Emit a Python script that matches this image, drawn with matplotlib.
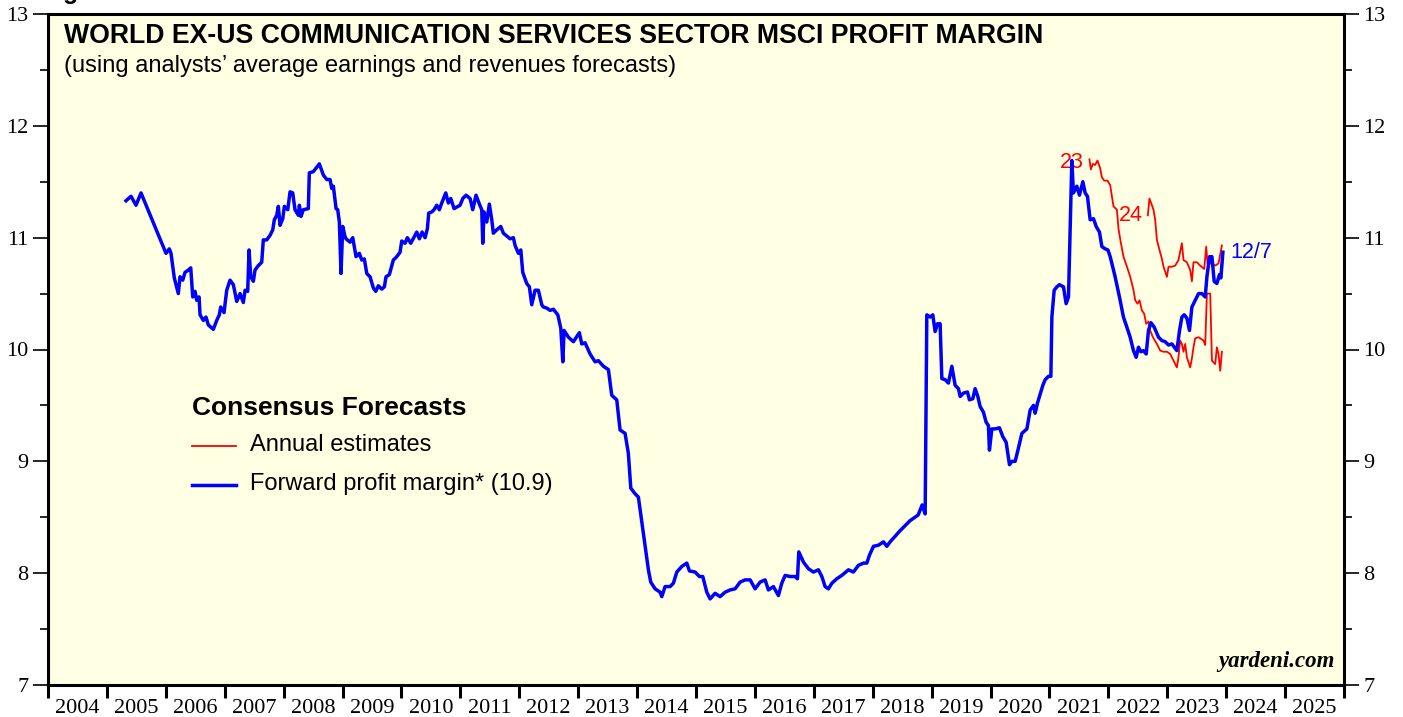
import matplotlib
matplotlib.use("Agg")
import matplotlib.pyplot as plt
from matplotlib.ticker import FixedLocator, NullFormatter, FixedFormatter

# Forward profit margin (decimal year, %)
fwd_year = [2005.324, 2005.409, 2005.494, 2005.579, 2006.003, 2006.059, 2006.088, 2006.144, 2006.212, 2006.241,
            2006.287, 2006.326, 2006.382, 2006.423, 2006.457, 2006.496, 2006.525, 2006.564, 2006.581, 2006.637,
            2006.682, 2006.721, 2006.806, 2006.864, 2006.908, 2006.932, 2006.988, 2007.034, 2007.090, 2007.146,
            2007.204, 2007.260, 2007.316, 2007.345, 2007.390, 2007.413, 2007.441, 2007.486, 2007.514, 2007.570,
            2007.628, 2007.655, 2007.713, 2007.769, 2007.815, 2007.842, 2007.883, 2007.910, 2007.939, 2007.985,
            2008.012, 2008.070, 2008.109, 2008.154, 2008.193, 2008.250, 2008.267, 2008.295, 2008.334, 2008.419,
            2008.436, 2008.504, 2008.606, 2008.674, 2008.732, 2008.788, 2008.817, 2008.844, 2008.890, 2008.918,
            2008.946, 2008.974, 2009.003, 2009.042, 2009.059, 2009.127, 2009.173, 2009.229, 2009.285, 2009.326,
            2009.370, 2009.411, 2009.467, 2009.523, 2009.564, 2009.608, 2009.666, 2009.710, 2009.738, 2009.795,
            2009.862, 2009.920, 2009.976, 2010.005, 2010.061, 2010.100, 2010.158, 2010.260, 2010.304, 2010.350,
            2010.401, 2010.440, 2010.463, 2010.514, 2010.553, 2010.599, 2010.643, 2010.684, 2010.752, 2010.796,
            2010.837, 2010.893, 2010.995, 2011.041, 2011.097, 2011.165, 2011.210, 2011.266, 2011.323, 2011.363,
            2011.380, 2011.402, 2011.448, 2011.492, 2011.533, 2011.560, 2011.618, 2011.686, 2011.730, 2011.844,
            2011.900, 2011.929, 2011.985, 2012.026, 2012.059, 2012.127, 2012.172, 2012.212, 2012.268, 2012.324,
            2012.382, 2012.409, 2012.467, 2012.523, 2012.579, 2012.654, 2012.705, 2012.739, 2012.761, 2012.834,
            2012.919, 2013.020, 2013.061, 2013.117, 2013.202, 2013.287, 2013.343, 2013.428, 2013.513, 2013.570,
            2013.655, 2013.711, 2013.796, 2013.852, 2013.893, 2013.966, 2014.022, 2014.136, 2014.192, 2014.232,
            2014.306, 2014.390, 2014.419, 2014.475, 2014.560, 2014.616, 2014.674, 2014.759, 2014.844, 2014.888,
            2014.985, 2015.058, 2015.115, 2015.183, 2015.239, 2015.324, 2015.409, 2015.494, 2015.579, 2015.664,
            2015.749, 2015.834, 2015.919, 2016.003, 2016.088, 2016.173, 2016.229, 2016.314, 2016.399, 2016.456,
            2016.513, 2016.598, 2016.682, 2016.722, 2016.745, 2016.823, 2016.908, 2016.993, 2017.078, 2017.136,
            2017.192, 2017.248, 2017.306, 2017.390, 2017.475, 2017.588, 2017.673, 2017.757, 2017.842, 2017.900,
            2017.944, 2018.012, 2018.097, 2018.182, 2018.239, 2018.295, 2018.465, 2018.635, 2018.771, 2018.839,
            2018.890, 2018.918, 2018.975, 2019.020, 2019.059, 2019.099, 2019.144, 2019.173, 2019.229, 2019.285,
            2019.343, 2019.399, 2019.455, 2019.484, 2019.540, 2019.608, 2019.642, 2019.699, 2019.738, 2019.784,
            2019.823, 2019.879, 2019.925, 2019.964, 2019.981, 2020.022, 2020.078, 2020.151, 2020.209, 2020.265,
            2020.321, 2020.362, 2020.418, 2020.474, 2020.532, 2020.617, 2020.673, 2020.729, 2020.757, 2020.796,
            2020.830, 2020.888, 2020.927, 2020.983, 2021.024, 2021.041, 2021.080, 2021.126, 2021.170, 2021.238,
            2021.283, 2021.323, 2021.380, 2021.407, 2021.465, 2021.509, 2021.567, 2021.606, 2021.645, 2021.691,
            2021.747, 2021.793, 2021.849, 2021.890, 2021.946, 2021.992, 2022.031, 2022.115, 2022.200, 2022.256,
            2022.314, 2022.370, 2022.426, 2022.472, 2022.511, 2022.552, 2022.596, 2022.642, 2022.681, 2022.722,
            2022.778, 2022.851, 2022.908, 2022.964, 2023.021, 2023.078, 2023.163, 2023.208, 2023.248, 2023.287,
            2023.333, 2023.377, 2023.418, 2023.474, 2023.531, 2023.588, 2023.644, 2023.673, 2023.717, 2023.758,
            2023.796, 2023.842, 2023.886, 2023.910, 2023.944]
fwd_margin = [11.33, 11.37, 11.29, 11.40, 10.86, 10.90, 10.86, 10.64, 10.50, 10.65,
              10.62, 10.69, 10.71, 10.73, 10.47, 10.52, 10.44, 10.47, 10.31, 10.26,
              10.29, 10.22, 10.18, 10.26, 10.31, 10.38, 10.33, 10.53, 10.62, 10.58,
              10.43, 10.50, 10.42, 10.53, 10.52, 10.89, 10.65, 10.61, 10.71, 10.75,
              10.78, 10.98, 10.98, 11.02, 11.07, 11.16, 11.20, 11.28, 11.11, 11.17,
              11.28, 11.25, 11.41, 11.40, 11.25, 11.20, 11.29, 11.19, 11.25, 11.26,
              11.58, 11.59, 11.66, 11.56, 11.52, 11.52, 11.44, 11.46, 11.26, 11.25,
              11.14, 10.68, 11.10, 11.01, 10.99, 10.96, 11.00, 10.83, 10.86, 10.80,
              10.81, 10.68, 10.65, 10.55, 10.52, 10.57, 10.54, 10.56, 10.65, 10.67,
              10.80, 10.83, 10.87, 10.97, 10.95, 11.00, 10.95, 11.05, 10.99, 11.05,
              11.00, 11.08, 11.22, 11.23, 11.25, 11.29, 11.25, 11.31, 11.40, 11.31,
              11.35, 11.26, 11.29, 11.35, 11.38, 11.35, 11.25, 11.38, 11.30, 11.25,
              10.95, 11.23, 11.14, 11.30, 11.16, 11.04, 11.07, 11.10, 11.04, 10.99,
              11.00, 10.93, 10.86, 10.89, 10.69, 10.59, 10.56, 10.40, 10.53, 10.53,
              10.40, 10.38, 10.37, 10.35, 10.36, 10.31, 10.19, 9.89, 10.17, 10.11,
              10.07, 10.15, 10.05, 10.06, 9.96, 9.89, 9.90, 9.85, 9.82, 9.59,
              9.55, 9.28, 9.25, 9.07, 8.76, 8.71, 8.68, 8.24, 8.03, 7.92,
              7.86, 7.83, 7.79, 7.88, 7.88, 7.91, 8.01, 8.06, 8.09, 8.02,
              8.01, 7.97, 7.97, 7.83, 7.77, 7.82, 7.79, 7.83, 7.85, 7.86,
              7.92, 7.94, 7.94, 7.86, 7.92, 7.94, 7.85, 7.88, 7.80, 7.91,
              7.98, 7.97, 7.97, 7.95, 8.19, 8.10, 8.04, 8.01, 8.03, 7.97,
              7.88, 7.86, 7.91, 7.95, 7.98, 8.03, 8.01, 8.07, 8.09, 8.09,
              8.16, 8.24, 8.25, 8.28, 8.24, 8.28, 8.38, 8.47, 8.52, 8.61,
              8.53, 10.31, 10.29, 10.31, 10.16, 10.23, 10.23, 9.74, 9.73, 9.70,
              9.85, 9.68, 9.65, 9.58, 9.61, 9.62, 9.55, 9.56, 9.65, 9.58,
              9.49, 9.44, 9.35, 9.32, 9.10, 9.29, 9.29, 9.30, 9.22, 9.17,
              8.97, 9.00, 9.00, 9.12, 9.25, 9.29, 9.46, 9.50, 9.43, 9.52,
              9.58, 9.68, 9.73, 9.76, 9.76, 10.29, 10.53, 10.56, 10.58, 10.56,
              10.41, 10.47, 11.69, 11.40, 11.46, 11.38, 11.50, 11.40, 11.37, 11.16,
              11.17, 11.10, 11.05, 10.92, 10.90, 10.89, 10.83, 10.65, 10.44, 10.29,
              10.20, 10.11, 9.99, 9.93, 10.02, 9.98, 9.99, 9.96, 10.17, 10.24,
              10.20, 10.11, 10.08, 10.07, 10.04, 10.05, 9.99, 10.17, 10.29, 10.31,
              10.28, 10.17, 10.38, 10.44, 10.50, 10.50, 10.47, 10.65, 10.83, 10.83,
              10.61, 10.59, 10.67, 10.64, 10.87]

# Annual estimates for 2023
est23_year = [2021.679, 2021.703, 2021.737, 2021.776, 2021.815, 2021.861, 2021.890, 2021.929, 2021.985, 2022.031,
              2022.060, 2022.087, 2022.145, 2022.172, 2022.213, 2022.257, 2022.315, 2022.371, 2022.427, 2022.456,
              2022.495, 2022.529, 2022.569, 2022.608, 2022.642, 2022.681, 2022.710, 2022.756, 2022.824, 2022.880,
              2022.936, 2022.994, 2023.050, 2023.106, 2023.163, 2023.190, 2023.219, 2023.248, 2023.275, 2023.304,
              2023.333, 2023.389, 2023.418, 2023.445, 2023.474, 2023.531, 2023.615, 2023.644, 2023.673, 2023.700,
              2023.729, 2023.758, 2023.814, 2023.842, 2023.870, 2023.899, 2023.927]
est23_margin = [11.70, 11.61, 11.66, 11.65, 11.69, 11.62, 11.54, 11.51, 11.51, 11.47,
                11.37, 11.28, 11.25, 11.08, 10.95, 10.83, 10.74, 10.65, 10.53, 10.44,
                10.41, 10.44, 10.35, 10.32, 10.23, 10.25, 10.17, 10.11, 10.05, 9.99,
                9.98, 9.98, 9.96, 9.90, 9.84, 9.93, 10.08, 10.05, 9.98, 10.05,
                9.93, 9.84, 9.92, 10.02, 10.10, 10.11, 10.08, 10.04, 10.50, 10.50,
                10.50, 9.90, 9.87, 10.02, 9.96, 9.81, 9.98]

# Annual estimates for 2024
est24_year = [2022.670, 2022.698, 2022.739, 2022.766, 2022.795, 2022.824, 2022.868, 2022.909, 2022.936, 2022.994,
              2023.021, 2023.078, 2023.134, 2023.190, 2023.248, 2023.275, 2023.333, 2023.389, 2023.418, 2023.445,
              2023.502, 2023.559, 2023.627, 2023.661, 2023.683, 2023.758, 2023.814, 2023.870, 2023.927]
est24_margin = [11.20, 11.35, 11.29, 11.25, 11.16, 10.98, 10.89, 10.81, 10.74, 10.65,
                10.74, 10.74, 10.75, 10.80, 10.95, 10.80, 10.78, 10.71, 10.61, 10.78,
                10.78, 10.75, 10.72, 10.92, 10.77, 10.77, 10.75, 10.77, 10.93]

years = list(range(2004, 2027))
year_labels = [str(y) for y in range(2004, 2026)]
y_ticks = [7, 8, 9, 10, 11, 12, 13]

BG = "#FFFFE3"
fig = plt.figure(figsize=(14.03, 7.17), dpi=100)
ax = fig.add_axes([48/1403, 32/717, (1344-48)/1403, (685-14)/717])
ax.set_facecolor(BG)

ax.plot(est23_year, est23_margin, color="#FF0000", lw=1.3, zorder=3)
ax.plot(est24_year, est24_margin, color="#FF0000", lw=1.3, zorder=3)
ax.plot(fwd_year, fwd_margin, color="#0000FF", lw=2.5, zorder=4)

ax.set_xlim(2004, 2026)
ax.set_ylim(7, 13)

for s in ax.spines.values():
    s.set_linewidth(2.2)
    s.set_color("black")

# y axis
ax.yaxis.set_major_locator(FixedLocator(y_ticks))
ax.yaxis.set_minor_locator(FixedLocator([v + 0.5 for v in y_ticks[:-1]]))
ax.tick_params(axis="y", which="major", left=True, right=True, labelleft=True, labelright=True,
               direction="out", length=11, width=1.2, labelsize=16, pad=3)
ax.tick_params(axis="y", which="minor", left=True, right=True, direction="out", length=6, width=1.2)
for lab in ax.get_yticklabels():
    lab.set_family("Liberation Serif")

# x axis
ax.xaxis.set_major_locator(FixedLocator(years))
ax.xaxis.set_major_formatter(NullFormatter())
ax.xaxis.set_minor_locator(FixedLocator([y + 0.5 for y in range(2004, 2026)]))
ax.xaxis.set_minor_formatter(FixedFormatter(year_labels))
ax.tick_params(axis="x", which="major", direction="out", length=9, width=2.2, bottom=True, top=False)
ax.tick_params(axis="x", which="minor", length=0, labelsize=16, pad=10)
for lab in ax.get_xticklabels(minor=True):
    lab.set_family("Liberation Serif")

# titles
ax.text(0.012, 0.986, "WORLD EX-US COMMUNICATION SERVICES SECTOR MSCI PROFIT MARGIN",
        transform=ax.transAxes, fontsize=19.2, fontweight="bold", family="Liberation Sans", va="top", ha="left")
ax.text(0.012, 0.939, "(using analysts\u2019 average earnings and revenues forecasts)",
        transform=ax.transAxes, fontsize=17, family="Liberation Sans", va="top", ha="left")

# legend
ax.text(0.111, 0.413, "Consensus Forecasts", transform=ax.transAxes, fontsize=19, fontweight="bold",
        family="Liberation Sans", va="center", ha="left")
ax.plot([0.111, 0.145], [0.356, 0.356], transform=ax.transAxes, color="#FF0000", lw=1.3)
ax.plot([0.111, 0.145], [0.298, 0.298], transform=ax.transAxes, color="#0000FF", lw=2.5)
ax.text(0.156, 0.358, "Annual estimates", transform=ax.transAxes, fontsize=17,
        family="Liberation Sans", va="center", ha="left")
ax.text(0.156, 0.300, "Forward profit margin* (10.9)", transform=ax.transAxes, fontsize=17,
        family="Liberation Sans", va="center", ha="left")

# series labels
ax.text(est23_year[0] - 0.09, est23_margin[0] - 0.03, "23", color="#FF0000", fontsize=15.5,
        family="Liberation Sans", ha="right", va="center")
ax.text(est24_year[0] - 0.09, est24_margin[0], "24", color="#FF0000", fontsize=15.5,
        family="Liberation Sans", ha="right", va="center")
ax.text(fwd_year[-1] + 0.12, fwd_margin[-1], "12/7", color="#0000FF", fontsize=15.5,
        family="Liberation Sans", ha="left", va="center")

ax.text(0.993, 0.02, "yardeni.com", transform=ax.transAxes, fontsize=16.5, fontweight="bold",
        fontstyle="italic", family="Liberation Serif", ha="right", va="bottom")

fig.text(0.045, 1.0 + 1/717, "g", fontsize=18, fontweight="bold", family="Liberation Sans",
         va="baseline", ha="left")

fig.savefig("out.png", dpi=100, facecolor="white")
